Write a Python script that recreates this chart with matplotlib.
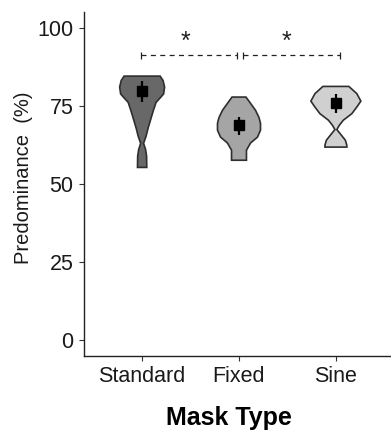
import matplotlib
matplotlib.use("Agg")
import matplotlib.pyplot as plt
import numpy as np

plt.rcParams['font.family'] = ['Liberation Sans', 'DejaVu Sans']

# mask conditions
mask_types = ['Standard', 'Fixed', 'Sine']
fills = ['#686868', '#a5a5a5', '#d0d0d0']

# violin outlines: predominance values and half-width of the density at each
std_vals = [84.5, 83.1, 81.0, 78.8, 77.7, 76.1, 73.2, 70.6, 67.9, 65.3, 63.0, 61.0, 58.9, 55.3]
std_half = [0.186, 0.216, 0.232, 0.222, 0.191, 0.144, 0.113, 0.088, 0.062, 0.041, 0.015, 0.036, 0.046, 0.048]
fix_vals = [77.8, 75.8, 73.6, 71.3, 69.4, 67.2, 65.0, 63.1, 60.8, 57.6]
fix_half = [0.072, 0.119, 0.170, 0.206, 0.222, 0.222, 0.191, 0.119, 0.077, 0.077]
sin_vals = [81.2, 78.9, 76.5, 74.6, 72.5, 70.4, 68.8, 67.4, 65.6, 64.0, 62.4, 61.8]
sin_half = [0.134, 0.216, 0.258, 0.216, 0.165, 0.077, 0.036, 0.010, 0.057, 0.098, 0.113, 0.113]

# mean and error bars
means = [79.7, 68.8, 75.9]
err_lo = [76.2, 65.6, 72.8]
err_hi = [82.9, 71.4, 78.9]

# significance brackets
brackets = [(0.99, 1.98), (2.04, 3.04)]
bracket_y = 91.2
star_x = [1.45, 2.49]
star_y = 95.6

fig = plt.figure(figsize=(3.91, 4.34), dpi=100)
ax = fig.add_axes([84 / 391, 78 / 434, 310 / 391, 344 / 434])

profiles = [(std_vals, std_half), (fix_vals, fix_half), (sin_vals, sin_half)]
for i, (vals, half) in enumerate(profiles):
    x0 = i + 1
    v = np.array(vals)
    h = np.array(half)
    xs = np.concatenate([x0 - h, (x0 + h)[::-1]])
    ys = np.concatenate([v, v[::-1]])
    ax.fill(xs, ys, facecolor=fills[i], edgecolor='#2e2e2e', linewidth=1.2, zorder=2)

xpos = np.arange(1, len(mask_types) + 1)
ax.vlines(xpos, err_lo, err_hi, color='black', linewidth=1.6, zorder=3)
ax.plot(xpos, means, 's', color='black', markersize=6.5, zorder=4)

for (a, b), sx in zip(brackets, star_x):
    ax.plot([a, b], [bracket_y, bracket_y], color='#222222', linewidth=0.9,
            dashes=(4, 3.5))
    ax.vlines([a, b], bracket_y - 1.1, bracket_y + 1.1, color='#222222', linewidth=0.9)
    ax.text(sx, star_y, '*', ha='center', va='center', fontsize=18, color='#222222')

ax.set_xlim(0.4, 3.6)
ax.set_ylim(-5, 105)
ax.set_xticks(xpos)
ax.set_xticklabels(mask_types)
ax.set_yticks([0, 25, 50, 75, 100])

for side in ['top', 'right']:
    ax.spines[side].set_visible(False)
for side in ['left', 'bottom']:
    ax.spines[side].set_color('#222222')
    ax.spines[side].set_linewidth(1.0)
ax.tick_params(axis='both', length=3.5, width=0.8, color='#333333',
               labelsize=15.5, labelcolor='#1a1a1a', pad=4)

ax.set_ylabel('Predominance  (%)', fontsize=14.5, color='#1a1a1a')
ax.yaxis.set_label_coords(-0.165, 0.517)
ax.set_xlabel('Mask Type', fontsize=18, fontweight='bold', color='black')
ax.xaxis.set_label_coords(0.468, -0.145)

fig.savefig('out.png', dpi=100)
